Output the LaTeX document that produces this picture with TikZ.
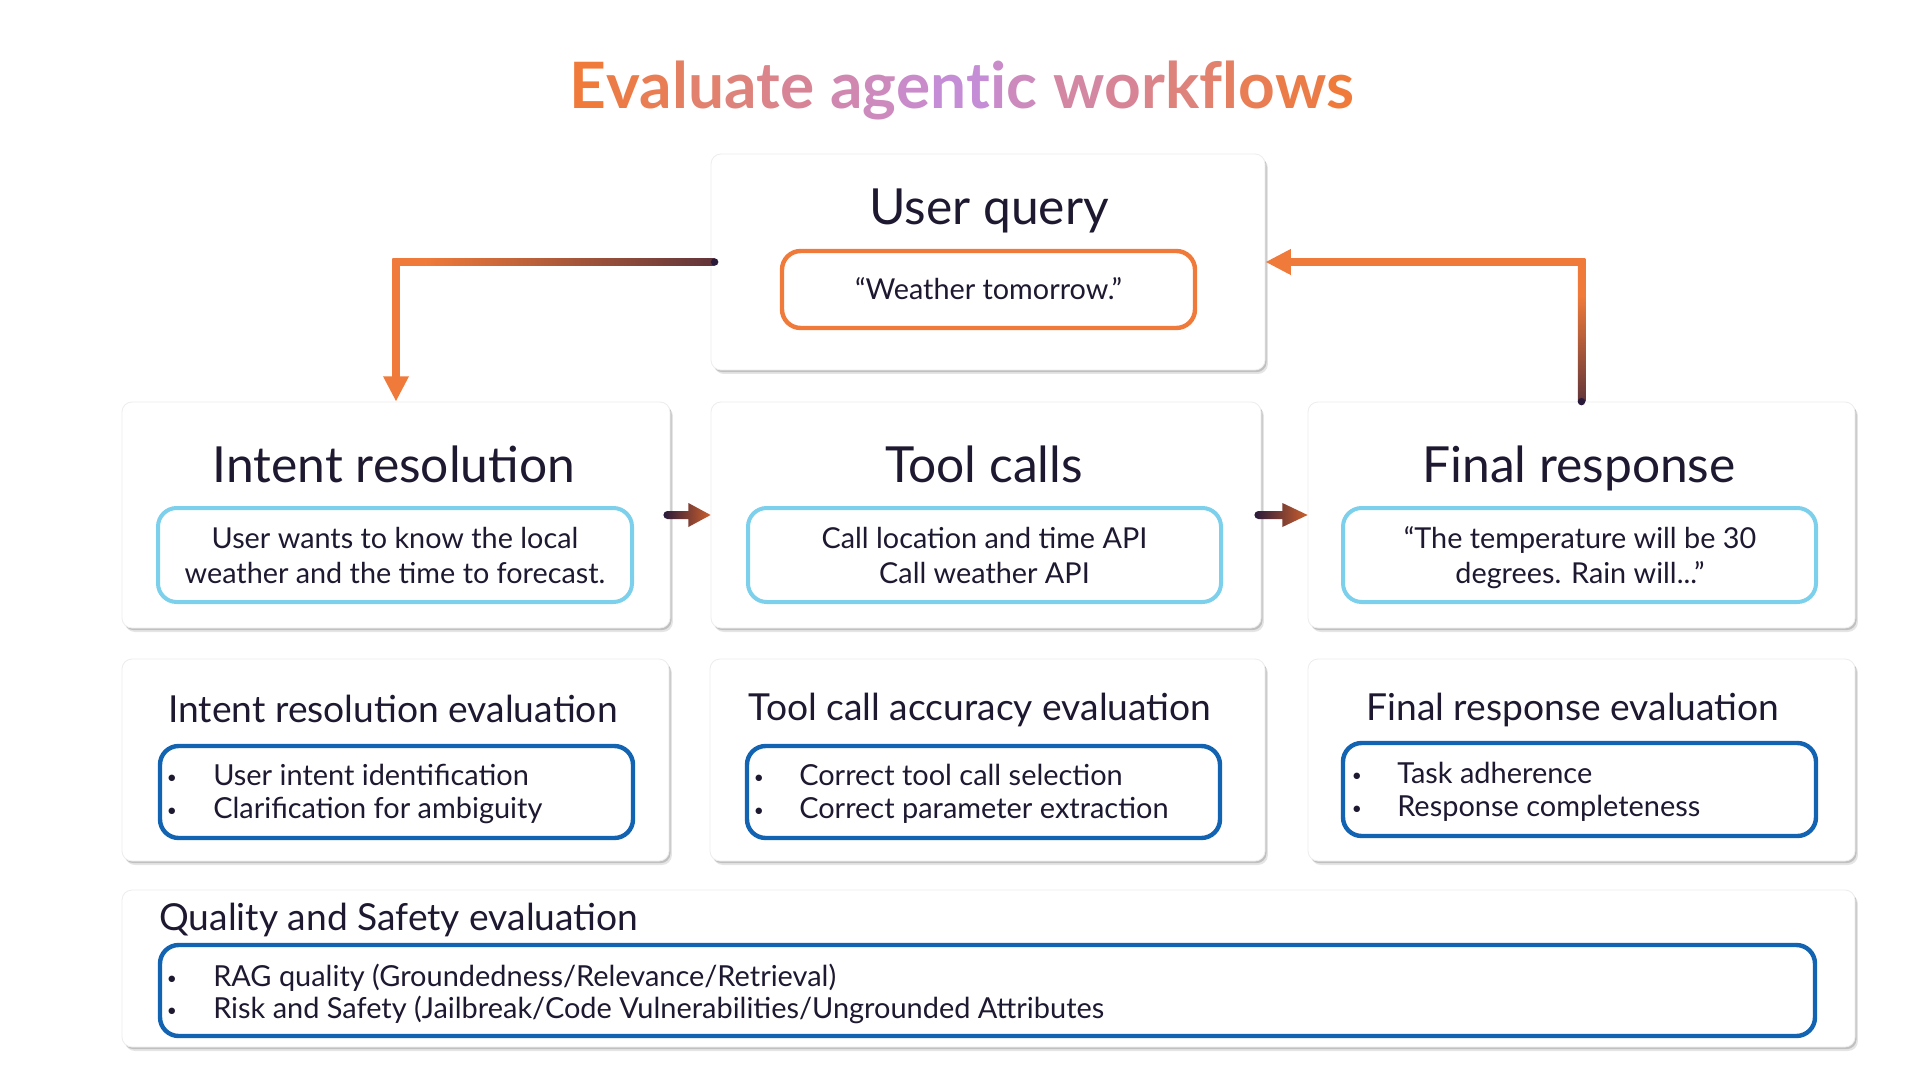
\documentclass[tikz,border=0pt]{standalone}
\usepackage{fontspec}
\setmainfont{Lato}
\usetikzlibrary{shadows,arrows.meta,calc,fit}
\definecolor{ink}{RGB}{30,24,48}
\definecolor{aorange}{RGB}{240,122,58}
\definecolor{apurple}{RGB}{196,142,222}
\definecolor{acyan}{RGB}{125,208,236}
\definecolor{ablue}{RGB}{18,100,178}
\definecolor{adark}{RGB}{42,26,58}
\definecolor{arust}{RGB}{204,96,44}
\newcommand\titlefont{\fontsize{48}{56}\selectfont\bfseries}
\newcommand\tl[2]{\textcolor{aorange!#1!apurple}{#2}}
\pgfdeclarehorizontalshading{hconn}{100bp}{color(0bp)=(aorange); color(30bp)=(aorange); color(92bp)=(adark); color(100bp)=(adark)}
\pgfdeclareverticalshading{vconn}{100bp}{color(0bp)=(adark); color(10bp)=(adark); color(62bp)=(aorange); color(100bp)=(aorange)}
\tikzset{
  panel/.style={fill=white, draw=black!7, line width=0.6pt, rounded corners=7.5pt, inner sep=0pt,
    drop shadow={shadow xshift=2.2pt, shadow yshift=-3pt, opacity=0.10, fill=black},
    drop shadow={shadow xshift=1.2pt, shadow yshift=-1.6pt, opacity=0.16, fill=black}},
  cyanbox/.style={draw=acyan, line width=3pt, rounded corners=14pt, fill=white, inner sep=0pt},
  bluebox/.style={draw=ablue, line width=3.3pt, rounded corners=14pt, fill=white, inner sep=0pt},
  orangebox/.style={draw=aorange, line width=3.3pt, rounded corners=14pt, fill=white, inner sep=0pt},
  bigtitle/.style={font=\fontsize{37.3}{45}\selectfont, text=ink, inner sep=0pt, anchor=base},
  innertext/.style={font=\fontsize{21.6}{26}\selectfont, text=ink, inner sep=0pt, anchor=base},
  subtitle/.style={font=\fontsize{27.9}{32}\selectfont, text=ink, inner sep=0pt, anchor=base},
  item/.style={font=\fontsize{21.7}{25}\selectfont, text=ink, inner sep=0pt, anchor=base west},
  dot/.style={font=\fontsize{13}{16}\selectfont, text=ink, inner sep=0pt, anchor=base},
  conn/.style={draw=aorange, line width=5.6pt},
  smallarrow/.style={left color=adark, right color=arust}
}
\begin{document}
\begin{tikzpicture}[x=0.75pt,y=-0.75pt]
\useasboundingbox (0,0) rectangle (1920,1080);
\fill[white] (0,0) rectangle (1920,1080);

% title
\node[font=\titlefont, inner sep=0pt, anchor=base] (title) at (962,109)
  {\tl{100}{E}\tl{92}{v}\tl{84}{a}\tl{76}{l}\tl{68}{u}\tl{60}{a}\tl{52}{t}\tl{44}{e} \tl{28}{a}\tl{20}{g}\tl{12}{e}\tl{4}{n}\tl{4}{t}\tl{12}{i}\tl{20}{c} \tl{36}{w}\tl{44}{o}\tl{52}{r}\tl{60}{k}\tl{68}{f}\tl{76}{l}\tl{84}{o}\tl{92}{w}\tl{100}{s}};

% panels
\node[panel, fit={(711,154)(1265,370)}] (uq) {};
\node[panel, fit={(122,402)(670,628)}] (ir) {};
\node[panel, fit={(711,402)(1261,628)}] (tc) {};
\node[panel, fit={(1308,402)(1855,628)}] (fr) {};
\node[panel, fit={(122,659)(669,861)}] (ire) {};
\node[panel, fit={(710,659)(1265,861)}] (tce) {};
\node[panel, fit={(1308,659)(1855,861)}] (fre) {};
\node[panel, fit={(122,890)(1855,1047)}] (qs) {};

% user query
\node[bigtitle] (uqt) at (989,225) {User query};
\node[orangebox, fit={(782,251)(1195,328)}] (uqb) {};
\node[innertext] (uqx) at (988.5,300) {“Weather tomorrow.”};

% row 1
\node[bigtitle] (irt) at (394,482) {Intent resolution};
\node[cyanbox, fit={(158,508)(632,602)}] (irb) {};
\node[innertext] (irx1) at (395,548) {User wants to know the local};
\node[innertext] (irx2) at (395,583) {weather and the time to forecast.};

\node[bigtitle] (tct) at (984,482) {Tool calls};
\node[cyanbox, fit={(748,508)(1221,602)}] (tcb) {};
\node[innertext] (tcx1) at (984.5,548) {Call location and time API};
\node[innertext] (tcx2) at (984.5,583) {Call weather API};

\node[bigtitle] (frt) at (1579,482) {Final response};
\node[cyanbox, fit={(1343,508)(1816,602)}] (frb) {};
\node[innertext] (frx1) at (1580,548) {“The temperature will be 30};
\node[innertext] (frx2) at (1580,583) {degrees. Rain will...”};

% row 2
\node[subtitle] (iret) at (393,722) {Intent resolution evaluation};
\node[bluebox, fit={(160,746)(633,838)}] (ireb) {};
\node[dot] (ired1) at (172,783) {\textbullet};
\node[item] (irei1) at (213,785) {User intent identification};
\node[dot] (ired2) at (172,816) {\textbullet};
\node[item] (irei2) at (213,818) {Clarification for ambiguity};

\node[subtitle] (tcet) at (980,720) {Tool call accuracy evaluation};
\node[bluebox, fit={(747,746)(1220,838)}] (tceb) {};
\node[dot] (tced1) at (759,783) {\textbullet};
\node[item] (tcei1) at (799,785) {Correct tool call selection};
\node[dot] (tced2) at (759,816) {\textbullet};
\node[item] (tcei2) at (799,818) {Correct parameter extraction};

\node[subtitle] (fret) at (1573,720) {Final response evaluation};
\node[bluebox, fit={(1343,743)(1816,836)}] (freb) {};
\node[dot] (fred1) at (1357,781) {\textbullet};
\node[item] (frei1) at (1397,783) {Task adherence};
\node[dot] (fred2) at (1357,814) {\textbullet};
\node[item] (frei2) at (1397,816) {Response completeness};

% row 3
\node[subtitle, anchor=base west] (qst) at (159,930) {Quality and Safety evaluation};
\node[bluebox, fit={(160,945)(1815,1036)}] (qsb) {};
\node[dot] (qsd1) at (172,984) {\textbullet};
\node[item] (qsi1) at (213,986) {RAG quality (Groundedness/Relevance/Retrieval)};
\node[dot] (qsd2) at (172,1016) {\textbullet};
\node[item] (qsi2) at (213,1018) {Risk and Safety (Jailbreak/Code Vulnerabilities/Ungrounded Attributes};

% left connector: user query -> intent resolution
\coordinate (lcorner) at (ir.north |- uq.west);
\draw[conn, -{Triangle[length=19pt,width=18pt]}] ($(lcorner)+(0,-2)$) -- (ir.north);
\shade[shading=hconn] ($(lcorner)+(-3.75,-3.75)$) rectangle ($(uq.west)+(4,3.75)$);
\fill[adark] ($(uq.west)+(4,0)$) circle (3.75);

% right connector: final response -> user query
\coordinate (rcorner) at (fr.north |- uq.east);
\draw[conn, -{Triangle[length=19pt,width=18pt]}] ($(rcorner)+(2,0)$) -- (uq.east);
\shade[shading=vconn] ($(rcorner)+(-3.75,-3.75)$) rectangle ($(fr.north)+(3.75,0)$);
\fill[adark] (fr.north) circle (3.75);

% small arrows between row-1 panels
\coordinate (a1s) at ($(ir.east)+(-3,0)$);
\coordinate (a2s) at ($(tc.east)+(-3,0)$);
\shade[smallarrow] ($(a1s)+(0,-4)$) -- ($(a1s)+(21,-4)$) -- ($(a1s)+(21,-12)$) -- (tc.west) -- ($(a1s)+(21,12)$) -- ($(a1s)+(21,4)$) -- ($(a1s)+(0,4)$) arc[start angle=90, end angle=270, radius=4] -- cycle;
\shade[smallarrow] ($(a2s)+(0,-4)$) -- ($(a2s)+(24,-4)$) -- ($(a2s)+(24,-12)$) -- (fr.west) -- ($(a2s)+(24,12)$) -- ($(a2s)+(24,4)$) -- ($(a2s)+(0,4)$) arc[start angle=90, end angle=270, radius=4] -- cycle;
\end{tikzpicture}
\end{document}
